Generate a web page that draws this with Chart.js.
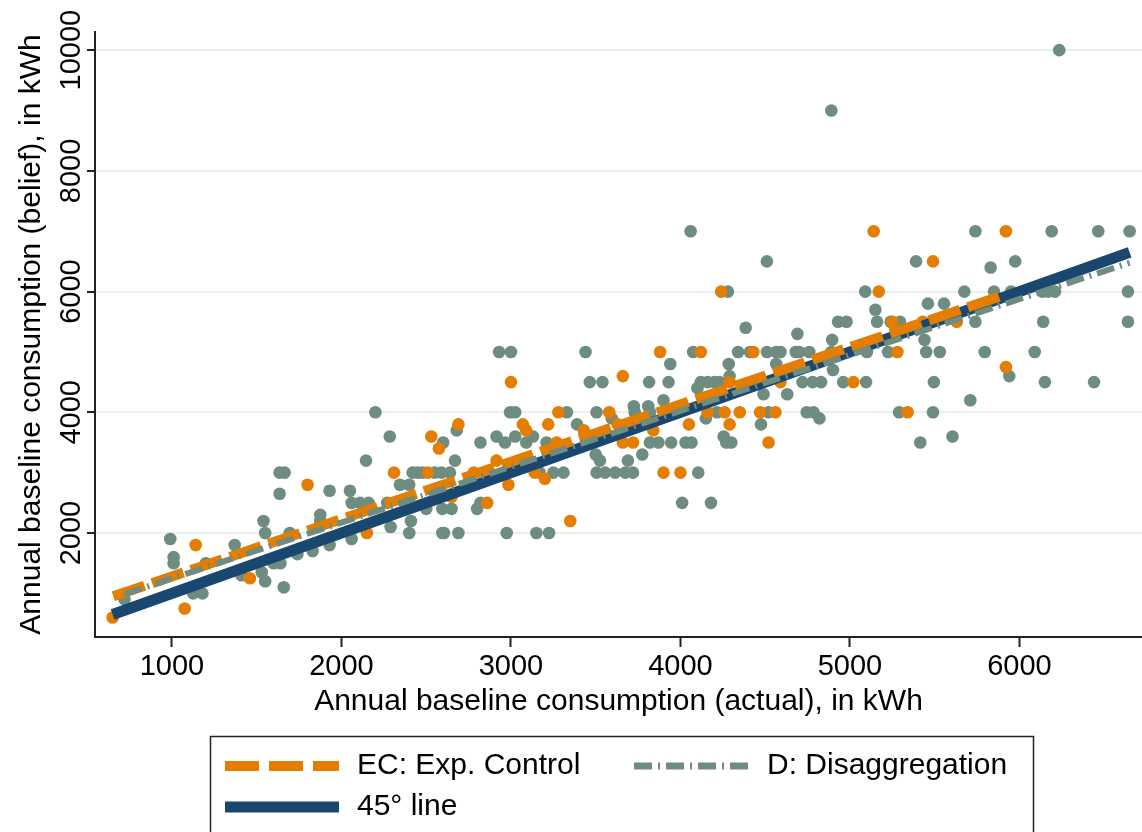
<!DOCTYPE html>
<html>
<head>
<meta charset="utf-8">
<script src="https://cdn.jsdelivr.net/npm/chart.js@4.4.1/dist/chart.umd.min.js"></script>
<style>
  html, body { margin: 0; padding: 0; background: #fff; }
  #wrap { width: 1142px; height: 832px; }
</style>
</head>
<body>
<div id="wrap"><canvas id="myChart" width="1142" height="832"></canvas></div>
<script>
// Axis ticks
const xTicks = [1000, 2000, 3000, 4000, 5000, 6000];
const yTicks = [2000, 4000, 6000, 8000, 10000];

// EC: Exp. Control  [actual, belief]
const ecPoints = [
  [650, 600], [1075, 750], [1140, 1800], [1460, 1250], [1800, 2800], [2150, 2000],
  [2310, 3000], [2510, 3000], [2530, 3600], [2575, 3400], [2650, 2600], [2690, 3800],
  [2780, 3000], [2860, 2500], [2915, 3200], [2985, 2800], [3000, 4500], [3070, 3800],
  [3090, 3700], [3140, 3000], [3200, 2900], [3220, 3800], [3270, 3500], [3280, 4000],
  [3350, 2200], [3430, 3700], [3580, 4000], [3630, 3800], [3660, 3500], [3660, 4600],
  [3720, 3500], [3840, 3700], [3880, 5000], [3900, 3000], [4000, 3000], [4050, 3800],
  [4120, 5000], [4160, 4000], [4240, 6000], [4260, 4000], [4290, 4500], [4290, 3800],
  [4350, 4000], [4430, 5000], [4470, 4000], [4520, 3500], [4560, 4000], [4590, 4500],
  [5020, 4500], [5140, 7000], [5170, 6000], [5250, 5500], [5280, 5000], [5340, 4000],
  [5430, 5500], [5490, 6500], [5630, 5500], [5920, 7000], [5920, 4750]
];

// D: Disaggregation  [actual, belief]
const dPoints = [
  [720, 900], [990, 1900], [1010, 1600], [1010, 1500], [1125, 1000], [1180, 1000],
  [1200, 1500], [1370, 1800], [1410, 1300], [1530, 1350], [1540, 2200], [1550, 2000],
  [1550, 1200], [1600, 1500], [1640, 1500], [1635, 3000], [1665, 3000], [1635, 2650],
  [1660, 1100], [1695, 2000], [1740, 1650], [1830, 1700], [1875, 2300], [1875, 2200],
  [1930, 2700], [1930, 1800], [2050, 2700], [2060, 2500], [2060, 1900], [2110, 2500],
  [2160, 2500], [2145, 3200], [2200, 4000], [2270, 2500], [2285, 3600], [2290, 2100],
  [2400, 2000], [2410, 2200], [2345, 2800], [2400, 2800], [2420, 3000], [2450, 3000],
  [2480, 3000], [2550, 3000], [2590, 3000], [2640, 3000], [2500, 2400], [2595, 2400],
  [2650, 2400], [2600, 3500], [2680, 3700], [2670, 3200], [2595, 2000], [2605, 2000],
  [2690, 2000], [2820, 3500], [2800, 2400], [2820, 2500], [2930, 5000], [3000, 5000],
  [2995, 4000], [3025, 4000], [2915, 3600], [2965, 3500], [3025, 3600], [3090, 3500],
  [3130, 3600], [3210, 3500], [3250, 3400], [2975, 2000], [3150, 2000], [3225, 2000],
  [3170, 3000], [3250, 3000], [3310, 3000], [3330, 4000], [3390, 3800], [3440, 5000],
  [3465, 4500], [3540, 4500], [3505, 4000], [3500, 3300], [3525, 3200], [3505, 3000],
  [3555, 3000], [3615, 3000], [3675, 3000], [3720, 3000], [3690, 3200], [3775, 3300],
  [3595, 3900], [3725, 4100], [3810, 4100], [3730, 4000], [3820, 4000], [3815, 4500],
  [3930, 4500], [3900, 4200], [3920, 4000], [3940, 4800], [3820, 3500], [3870, 3500],
  [3945, 3500], [4030, 3500], [4065, 3500], [4010, 2500], [4180, 2500], [4105, 3000],
  [4060, 7000], [4075, 5000], [4100, 4400], [4120, 4500], [4160, 4500], [4200, 4500],
  [4230, 4500], [4150, 3900], [4215, 4000], [4255, 3600], [4300, 3500], [4270, 3500],
  [4280, 6000], [4285, 4800], [4290, 4600], [4340, 5000], [4385, 5400], [4410, 5000],
  [4475, 3800], [4490, 4300], [4510, 6500], [4510, 5000], [4520, 4000], [4565, 5000],
  [4565, 4800], [4590, 5000], [4630, 4300], [4680, 5000], [4700, 5000], [4760, 5000],
  [4690, 5300], [4720, 4500], [4780, 4500], [4830, 4500], [4745, 4000], [4785, 4000],
  [4820, 3900], [4890, 9000], [4895, 5200], [4890, 5000], [4900, 4700], [4930, 5500],
  [4980, 5500], [4960, 4500], [5090, 6000], [5150, 5700], [5100, 5000], [5095, 4500],
  [5160, 5500], [5225, 5000], [5240, 5500], [5295, 5500], [5290, 4000], [5390, 6500],
  [5415, 3500], [5440, 5200], [5450, 5000], [5460, 5800], [5490, 4000], [5495, 4500],
  [5530, 5000], [5555, 5800], [5605, 3600], [5675, 6000], [5710, 4200], [5740, 7000],
  [5740, 5500], [5795, 5000], [5830, 6400], [5850, 6000], [5950, 6000], [5940, 4600],
  [5975, 6500], [6090, 5000], [6135, 6000], [6170, 6000], [6210, 6000], [6140, 5500],
  [6150, 4500], [6190, 7000], [6235, 10000], [6440, 4500], [6465, 7000], [6640, 6000],
  [6640, 5500], [6650, 7000]
];

// Fitted lines (endpoints) and 45 degree line range
const ecFit = [[654, 951], [5920, 5954]];
const dFit = [[720, 988], [6650, 6477]];
const line45 = [650, 6650];

const NAVY = "#1a476f";
const ORANGE = "#e37e00";
const GREEN = "#6e8c80";
const FONT = "Liberation Sans, Arial, sans-serif";

const toXY = (arr) => arr.map((p) => ({ x: p[0], y: p[1] }));

// y tick labels (rotated) + framed legend
const extras = {
  id: "extras",
  afterDraw(chart) {
    const c = chart.ctx;
    const ys = chart.scales.y;
    c.save();
    c.fillStyle = "#000";
    c.font = "29px " + FONT;
    c.textAlign = "center";
    c.textBaseline = "middle";
    yTicks.forEach((v) => {
      c.save();
      c.translate(72, ys.getPixelForValue(v));
      c.rotate(-Math.PI / 2);
      c.fillText(String(v), 0, 0);
      c.restore();
    });

    // legend box
    c.strokeStyle = "#222";
    c.lineWidth = 1.5;
    c.strokeRect(210.5, 736.5, 823, 120);

    const sample = (x1, x2, y, color, width, dash) => {
      c.beginPath();
      c.setLineDash(dash);
      c.lineCap = "butt";
      c.strokeStyle = color;
      c.lineWidth = width;
      c.moveTo(x1, y);
      c.lineTo(x2, y);
      c.stroke();
    };
    sample(225, 339, 766, ORANGE, 10, [34, 10]);
    sample(634, 748, 766, GREEN, 7, [18, 6, 2, 6]);
    sample(225, 339, 807, NAVY, 11, []);
    c.setLineDash([]);

    c.font = "30px " + FONT;
    c.textAlign = "left";
    c.fillStyle = "#000";
    c.fillText("EC: Exp. Control", 357, 766);
    c.fillText("D: Disaggregation", 767, 766);
    c.fillText("45° line", 357, 807);
    c.restore();
  },
};

const ctx = document.getElementById("myChart").getContext("2d");

new Chart(ctx, {
  type: "scatter",
  data: {
    datasets: [
      {
        label: "D: Disaggregation fit",
        data: toXY(dFit),
        showLine: true,
        pointRadius: 0,
        borderColor: GREEN,
        borderWidth: 6,
        borderDash: [18, 6, 2, 6],
        borderCapStyle: "butt",
        order: 0,
      },
      {
        label: "EC: Exp. Control fit",
        data: toXY(ecFit),
        showLine: true,
        pointRadius: 0,
        borderColor: ORANGE,
        borderWidth: 10,
        borderDash: [33, 8],
        borderCapStyle: "butt",
        order: 1,
      },
      {
        label: "45° line",
        data: line45.map((v) => ({ x: v, y: v })),
        showLine: true,
        pointRadius: 0,
        borderColor: NAVY,
        borderWidth: 11,
        borderCapStyle: "butt",
        order: 2,
      },
      {
        label: "EC",
        data: toXY(ecPoints),
        pointRadius: 6.3,
        borderWidth: 0,
        backgroundColor: ORANGE,
        order: 3,
      },
      {
        label: "D",
        data: toXY(dPoints),
        pointRadius: 6.3,
        borderWidth: 0,
        backgroundColor: GREEN,
        order: 4,
      },
    ],
  },
  options: {
    responsive: false,
    animation: false,
    events: [],
    layout: { autoPadding: false, padding: { top: 32, right: 0, bottom: 0, left: 0 } },
    plugins: { legend: { display: false }, tooltip: { enabled: false } },
    scales: {
      x: {
        type: "linear",
        position: "bottom",
        min: 546,
        max: 6723,
        afterBuildTicks: (s) => { s.ticks = xTicks.map((v) => ({ value: v })); },
        afterFit: (s) => { s.height = 195; },
        grid: { drawOnChartArea: false, tickLength: 10, tickColor: "#222", tickWidth: 2 },
        border: { color: "#222", width: 2 },
        ticks: {
          color: "#000",
          font: { family: FONT, size: 29 },
          padding: 3,
          maxRotation: 0,
          callback: (v) => String(v),
        },
        title: {
          display: true,
          text: "Annual baseline consumption (actual), in kWh",
          color: "#000",
          font: { family: FONT, size: 30 },
          padding: { top: 0, bottom: 112 },
        },
      },
      y: {
        type: "linear",
        position: "left",
        min: 277,
        max: 10301,
        afterBuildTicks: (s) => { s.ticks = yTicks.map((v) => ({ value: v })); },
        afterFit: (s) => { s.width = 95; },
        grid: { color: "#e8eff2", lineWidth: 2, tickLength: 8, tickColor: "#222", tickWidth: 2 },
        border: { color: "#222", width: 2 },
        ticks: { display: false },
        title: {
          display: true,
          text: "Annual baseline consumption (belief), in kWh",
          color: "#000",
          font: { family: FONT, size: 30 },
          padding: { top: 14, bottom: 0 },
        },
      },
    },
  },
  plugins: [extras],
});
</script>
</body>
</html>
